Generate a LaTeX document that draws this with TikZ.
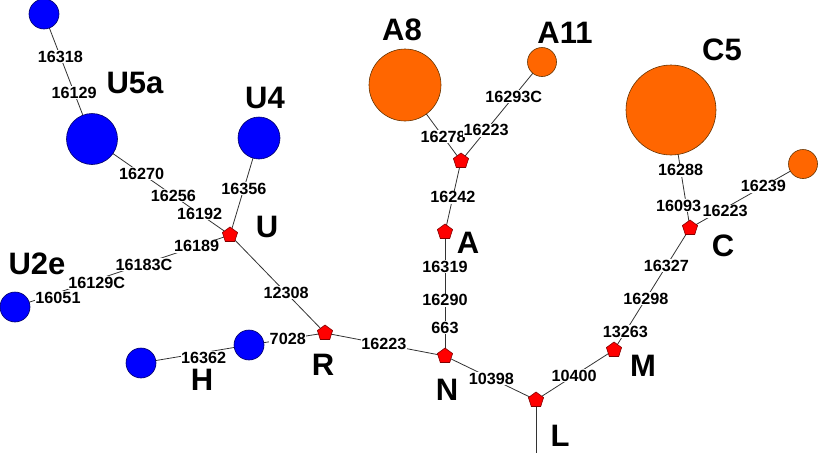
\documentclass[tikz,border=0pt]{standalone}
\usepackage{fontspec}
\setmainfont{Liberation Sans}
\usepackage{xcolor}
\usetikzlibrary{shapes.geometric}
\definecolor{bluefill}{HTML}{0000FF}
\definecolor{bluestroke}{HTML}{000066}
\definecolor{orangefill}{HTML}{FF6600}
\definecolor{orangestroke}{HTML}{663300}
\definecolor{redfill}{HTML}{FF0000}
\definecolor{redstroke}{HTML}{800000}
\definecolor{linegray}{HTML}{333333}
\pgfdeclarelayer{background}
\pgfsetlayers{background,main}
\tikzset{
    bluehap/.style={circle, draw=bluestroke, fill=bluefill, inner sep=0pt, line width=0.6pt},
    orangehap/.style={circle, draw=orangestroke, fill=orangefill, inner sep=0pt, line width=0.6pt},
    median/.style={regular polygon, regular polygon sides=5, draw=redstroke, fill=redfill,
    minimum size=16pt, inner sep=0pt, line width=0.6pt},
    mut/.style={fill=white, inner sep=0.6pt, font=\fontsize{16.2}{17}\selectfont\bfseries},
    hgname/.style={inner sep=1pt, font=\fontsize{31}{32}\selectfont\bfseries},
    link/.style={draw=linegray, line width=0.8pt},
}

\begin{document}
\begin{tikzpicture}[x=1pt, y=-1pt]
    \useasboundingbox (0,0) rectangle (819,453);

% =========================================================
% Haplotypes (circles) and median vectors (pentagons)
% =========================================================

        \node[bluehap, minimum size=30pt] (u5b) at (44,14) {};
        \node[bluehap, minimum size=51pt] (u5a) at (92,139) {};
        \node[bluehap, minimum size=42pt] (u4)  at (259,138) {};
        \node[bluehap, minimum size=30pt] (u2e) at (15,307) {};
        \node[bluehap, minimum size=30pt] (h1)  at (141,363) {};
        \node[bluehap, minimum size=30pt] (h2)  at (249,345) {};

        \node[orangehap, minimum size=72pt] (a8)  at (405,85) {};
        \node[orangehap, minimum size=29pt] (a11) at (542,62) {};
        \node[orangehap, minimum size=90pt] (c5)  at (671,110) {};
        \node[orangehap, minimum size=29pt] (c1)  at (803,164) {};

        \node[median] (mu) at (230,235) {};
        \node[median] (mr) at (325,333) {};
        \node[median] (mn) at (445,356) {};
        \node[median] (ml) at (536,400) {};
        \node[median] (mm) at (614,350) {};
        \node[median] (ma) at (445,232) {};
        \node[median] (ma2) at (461,161) {};
        \node[median] (mc) at (690,228) {};

        \coordinate (root) at (536,453);

% =========================================================
% Links with mutations
% =========================================================

    \begin{pgfonlayer}{background}
        \draw[link] (u5b.center) -- node[mut, pos=0.34] {16318} node[mut, pos=0.63] {16129} (u5a.center);
        \draw[link] (u5a.center) -- node[mut, pos=0.36] {16270} node[mut, pos=0.59] {16256}
            node[mut, pos=0.78] {16192} (mu.center);
        \draw[link] (u4.center) -- node[mut, pos=0.52] {16356} (mu.center);
        \draw[link] (mu.center) -- node[mut, pos=0.155] {16189} node[mut, pos=0.40, yshift=-1pt] {16183C}
            node[mut, pos=0.62, yshift=-3pt] {16129C} node[mut, pos=0.80, yshift=-5pt] {16051} (u2e.center);
        \draw[link] (mu.center) -- node[mut, pos=0.59] {12308} (mr.center);
        \draw[link] (mr.center) -- node[mut, pos=0.49] {7028} (h2.center);
        \draw[link] (h2.center) -- node[mut, pos=0.42, yshift=-5pt] {16362} (h1.center);
        \draw[link] (mr.center) -- node[mut, pos=0.49] {16223} (mn.center);
        \draw[link] (ma.center) -- node[mut, pos=0.28] {16319} node[mut, pos=0.55] {16290}
            node[mut, pos=0.77] {663} (mn.center);
        \draw[link] (ma2.center) -- node[mut, pos=0.51] {16242} (ma.center);
        \draw[link] (a8.center) -- node[mut, pos=0.68] {16278} (ma2.center);
        \draw[link] (a11.center) -- node[mut, pos=0.35] {16293C} node[mut, pos=0.69] {16223} (ma2.center);
        \draw[link] (mn.center) -- node[mut, pos=0.51] {10398} (ml.center);
        \draw[link] (ml.center) -- node[mut, pos=0.49] {10400} (mm.center);
        \draw[link] (mm.center) -- node[mut, pos=0.15] {13263} node[mut, pos=0.42] {16298}
            node[mut, pos=0.69] {16327} (mc.center);
        \draw[link] (mc.center) -- node[mut, pos=0.49] {16288} (c5.center);
        \draw[link] (mc.center) -- node[mut, pos=0.31, yshift=-3pt] {16223} node[mut, pos=0.65] {16239} (c1.center);
        \path (mc.center) -- node[mut, pos=0.18, xshift=-8pt, yshift=1pt] {16093} (c5.center);
        \draw[link] (ml.center) -- (root);
    \end{pgfonlayer}

% =========================================================
% Haplogroup names
% =========================================================

        \node[hgname] (nu5a) at (135,83)  {U5a};
        \node[hgname] (nu4)  at (265,98)  {U4};
        \node[hgname] (nu)   at (267,227) {U};
        \node[hgname] (nu2e) at (37,264)  {U2e};
        \node[hgname] (nh)   at (202,380) {H};
        \node[hgname] (nr)   at (323,365) {R};
        \node[hgname] (nn)   at (447,390) {N};
        \node[hgname] (nl)   at (560,436) {L};
        \node[hgname] (nm)   at (643,366) {M};
        \node[hgname] (nc)   at (723,246) {C};
        \node[hgname] (nc5)  at (722,50)  {C5};
        \node[hgname] (na8)  at (402,30)  {A8};
        \node[hgname] (na11) at (565,33)  {A11};
        \node[hgname] (na)   at (468,243) {A};

\end{tikzpicture}
\end{document}
